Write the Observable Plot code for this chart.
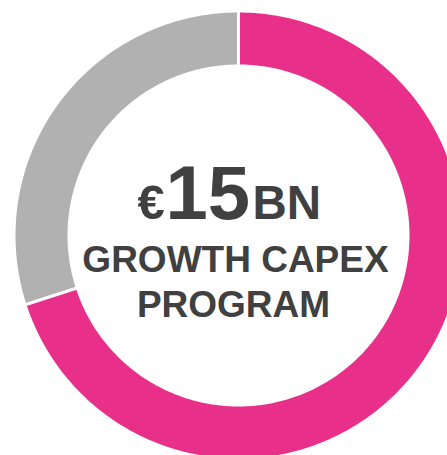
<!DOCTYPE html>
<html>
<head>
<meta charset="utf-8">
<script src="https://cdn.jsdelivr.net/npm/d3@7"></script>
<script src="https://cdn.jsdelivr.net/npm/@observablehq/plot@0.6"></script>
<style>
  html, body { margin: 0; padding: 0; background: #ffffff; }
  #chart { width: 447px; height: 455px; overflow: hidden; }
  svg { display: block; }
</style>
</head>
<body>
<div id="chart"></div>
<script>
// ---- data ----
const segments = ["Growth capex", "Other"];
const shares = [70, 30];
const colors = ["#E8308A", "#B1B1B1"];
const headline = ["€", "15", "BN"];
const subtitleLines = ["GROWTH CAPEX", "PROGRAM"];

// ---- geometry (in scale units; outer radius = 1) ----
const outerR = 1;
const innerR = 171 / 223;
const pie = d3.pie().sort(null).value(d => d)(shares);

function ringPoints(slice, name) {
  const pts = [];
  const n = 240;
  const a0 = slice.startAngle, a1 = slice.endAngle;
  for (let i = 0; i <= n; i++) {
    const a = a0 + (a1 - a0) * i / n;
    pts.push({seg: name, x: outerR * Math.sin(a), y: outerR * Math.cos(a)});
  }
  for (let i = n; i >= 0; i--) {
    const a = a0 + (a1 - a0) * i / n;
    pts.push({seg: name, x: innerR * Math.sin(a), y: innerR * Math.cos(a)});
  }
  pts.push(pts[0]);
  return pts;
}

const sliceMarks = pie.map((s, i) =>
  Plot.line(ringPoints(s, segments[i]), {x: "x", y: "y", fill: colors[i], stroke: "none", curve: "linear"})
);

const separators = pie.map(s => ({
  x1: (innerR - 0.02) * Math.sin(s.startAngle), y1: (innerR - 0.02) * Math.cos(s.startAngle),
  x2: (outerR + 0.02) * Math.sin(s.startAngle), y2: (outerR + 0.02) * Math.cos(s.startAngle)
}));

const font = "'Liberation Sans', Arial, Helvetica, sans-serif";
const ink = "#404040";

const chart = Plot.plot({
  width: 447,
  height: 455,
  margin: 0,
  x: {domain: [-1, 1], range: [15, 461], axis: null},
  y: {domain: [-1, 1], range: [458, 12], axis: null},
  style: {background: "#ffffff", fontFamily: font},
  marks: [
    ...sliceMarks,
    Plot.link(separators, {x1: "x1", y1: "y1", x2: "x2", y2: "y2", stroke: "#ffffff", strokeWidth: 3}),
    Plot.text([headline[0]], {x: () => 0, y: () => 0, text: d => d, textAnchor: "start", lineAnchor: "bottom",
      dx: -101, dy: -17, fontSize: 49, fontWeight: "bold", fill: ink}),
    Plot.text([headline[1]], {x: () => 0, y: () => 0, text: d => d, textAnchor: "start", lineAnchor: "bottom",
      dx: -73, dy: -17, fontSize: 76, fontWeight: "bold", fill: ink}),
    Plot.text([headline[2]], {x: () => 0, y: () => 0, text: d => d, textAnchor: "start", lineAnchor: "bottom",
      dx: 14, dy: -17, fontSize: 47.5, fontWeight: "bold", fill: ink}),
    Plot.text([subtitleLines[0]], {x: () => 0, y: () => 0, text: d => d, textAnchor: "middle", lineAnchor: "bottom",
      dx: -3, dy: 36.5, fontSize: 37, fontWeight: "bold", fill: ink}),
    Plot.text([subtitleLines[1]], {x: () => 0, y: () => 0, text: d => d, textAnchor: "middle", lineAnchor: "bottom",
      dx: -5, dy: 81.5, fontSize: 37, fontWeight: "bold", fill: ink})
  ]
});

document.getElementById("chart").appendChild(chart);
</script>
</body>
</html>
